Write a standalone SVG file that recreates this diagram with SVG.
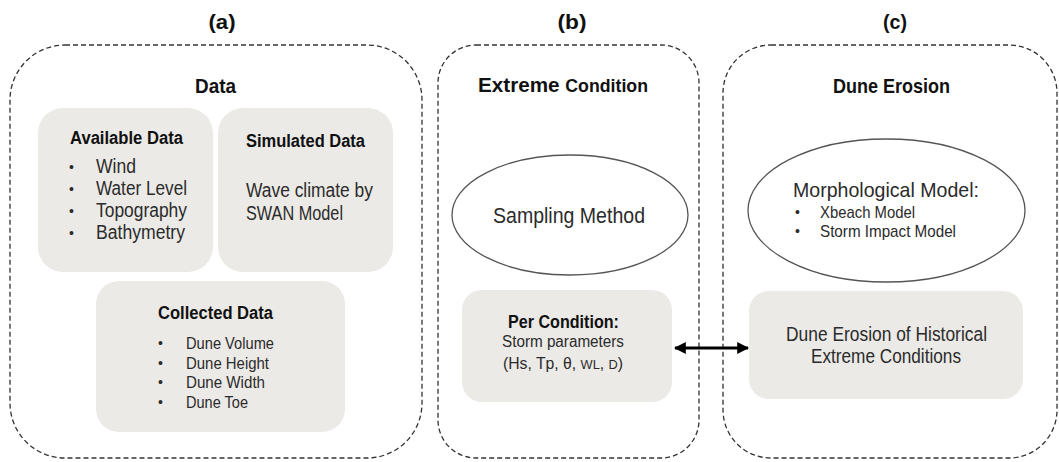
<svg xmlns="http://www.w3.org/2000/svg" width="1059" height="462" viewBox="0 0 1059 462">
<style>
text{font-family:"Liberation Sans",Arial,sans-serif;fill:#2b2b2b}
.lbl{font-size:21px;font-weight:bold;fill:#111;text-anchor:middle}
.hd{font-size:21px;font-weight:bold;fill:#111}
.sub{font-size:18px;font-weight:bold;fill:#111}
.body{font-size:20px}
.small{font-size:17px}
.pc{font-size:16px}
.bul{font-size:14px}
.grp{fill:none;stroke:#333;stroke-width:1.3;stroke-dasharray:5 3}
.box{fill:#ebeae7}
.ell{fill:#fff;stroke:#555;stroke-width:1.3}
.conn{stroke:#000;stroke-width:3;fill:none}
</style>
<defs>
<marker id="ah" viewBox="0 0 10 10" refX="9" refY="5" markerWidth="4" markerHeight="4" orient="auto-start-reverse" markerUnits="strokeWidth">
<path d="M0,0 L10,5 L0,10 z" fill="#000"/>
</marker>
</defs>

<g id="panel-a">
<text class="lbl" x="222" y="29" textLength="27" lengthAdjust="spacingAndGlyphs">(a)</text>
<rect class="grp" x="10" y="45" width="412" height="413" rx="55" ry="55"/>
<text class="hd" x="195" y="93" textLength="41" lengthAdjust="spacingAndGlyphs">Data</text>
</g>

<g id="available-data">
<rect class="box" x="38" y="108" width="175" height="164" rx="25" ry="25"/>
<text class="sub" x="70" y="144" textLength="113" lengthAdjust="spacingAndGlyphs">Available Data</text>
<text class="bul" x="69" y="172">•</text>
<text class="body" x="96" y="173" textLength="40" lengthAdjust="spacingAndGlyphs">Wind</text>
<text class="bul" x="69" y="194">•</text>
<text class="body" x="96" y="195" textLength="91" lengthAdjust="spacingAndGlyphs">Water Level</text>
<text class="bul" x="69" y="216">•</text>
<text class="body" x="96" y="217" textLength="91" lengthAdjust="spacingAndGlyphs">Topography</text>
<text class="bul" x="69" y="238">•</text>
<text class="body" x="96" y="239" textLength="89" lengthAdjust="spacingAndGlyphs">Bathymetry</text>
</g>

<g id="simulated-data">
<rect class="box" x="218" y="108" width="175" height="164" rx="25" ry="25"/>
<text class="sub" x="246" y="147" textLength="119" lengthAdjust="spacingAndGlyphs">Simulated Data</text>
<text class="body" x="246" y="197" textLength="127" lengthAdjust="spacingAndGlyphs">Wave climate by</text>
<text class="body" x="246" y="220" textLength="97" lengthAdjust="spacingAndGlyphs">SWAN Model</text>
</g>

<g id="collected-data">
<rect class="box" x="96" y="281" width="249" height="151" rx="23" ry="23"/>
<text class="sub" x="158" y="319" textLength="115" lengthAdjust="spacingAndGlyphs">Collected Data</text>
<text class="bul" x="158" y="348">•</text>
<text class="small" x="186" y="349" textLength="88" lengthAdjust="spacingAndGlyphs">Dune Volume</text>
<text class="bul" x="158" y="368">•</text>
<text class="small" x="186" y="369" textLength="83" lengthAdjust="spacingAndGlyphs">Dune Height</text>
<text class="bul" x="158" y="387">•</text>
<text class="small" x="186" y="388" textLength="79" lengthAdjust="spacingAndGlyphs">Dune Width</text>
<text class="bul" x="158" y="407">•</text>
<text class="small" x="186" y="408" textLength="62" lengthAdjust="spacingAndGlyphs">Dune Toe</text>
</g>

<g id="panel-b">
<text class="lbl" x="572" y="29" textLength="29" lengthAdjust="spacingAndGlyphs">(b)</text>
<rect class="grp" x="438" y="45" width="261" height="413" rx="38" ry="38"/>
<text class="hd" x="478" y="92" textLength="170" lengthAdjust="spacingAndGlyphs">Extreme <tspan style="font-size:18px">Condition</tspan></text>
</g>

<g id="sampling-method">
<ellipse class="ell" cx="570" cy="215" rx="118" ry="60"/>
<text x="493" y="223" style="font-size:22px" textLength="152" lengthAdjust="spacingAndGlyphs">Sampling Method</text>
</g>

<g id="per-condition">
<rect class="box" x="462" y="290" width="210" height="112" rx="20" ry="20"/>
<text class="sub" x="508" y="328" textLength="111" lengthAdjust="spacingAndGlyphs">Per Condition:</text>
<text class="pc" x="502" y="347" textLength="122" lengthAdjust="spacingAndGlyphs">Storm parameters</text>
<text class="pc" x="503" y="369" textLength="120" lengthAdjust="spacingAndGlyphs">(Hs, Tp, θ, <tspan style="font-size:13px">WL</tspan>, <tspan style="font-size:13px">D</tspan>)</text>
</g>

<g id="panel-c">
<text class="lbl" x="895" y="29" textLength="24" lengthAdjust="spacingAndGlyphs">(c)</text>
<rect class="grp" x="723" y="45" width="334" height="413" rx="48" ry="48"/>
<text class="hd" x="833" y="93" textLength="117" lengthAdjust="spacingAndGlyphs">Dune Erosion</text>
</g>

<g id="morphological-model">
<ellipse class="ell" cx="886.5" cy="210.5" rx="138.5" ry="71.5"/>
<text x="793" y="197" style="font-size:21px" textLength="186" lengthAdjust="spacingAndGlyphs">Morphological Model:</text>
<text class="bul" x="795" y="217">•</text>
<text class="small" x="820" y="218" textLength="95" lengthAdjust="spacingAndGlyphs">Xbeach Model</text>
<text class="bul" x="795" y="236">•</text>
<text class="small" x="820" y="237" textLength="136" lengthAdjust="spacingAndGlyphs">Storm Impact Model</text>
</g>

<g id="dune-erosion-historical">
<rect class="box" x="749" y="291" width="274" height="108" rx="20" ry="20"/>
<text x="786" y="341" style="font-size:20px" textLength="201" lengthAdjust="spacingAndGlyphs">Dune Erosion of Historical</text>
<text x="811" y="363" style="font-size:20px" textLength="150" lengthAdjust="spacingAndGlyphs">Extreme Conditions</text>
</g>

<g id="connectors">
<line class="conn" x1="675" y1="348" x2="748" y2="348" marker-start="url(#ah)" marker-end="url(#ah)"/>
</g>
</svg>
